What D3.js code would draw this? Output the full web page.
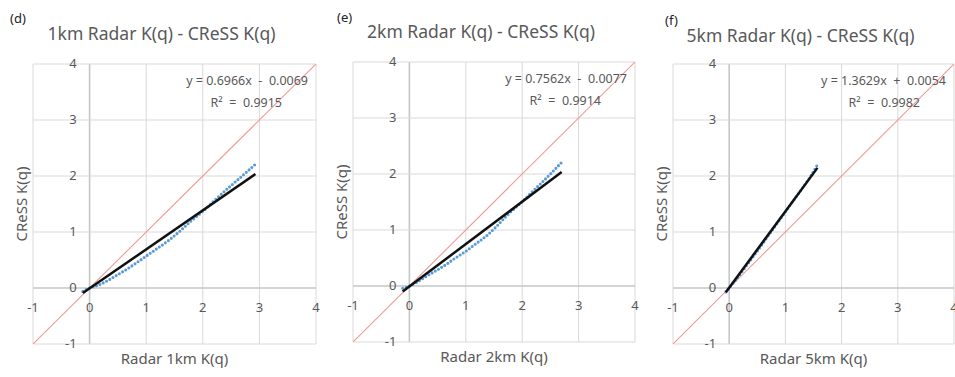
<!DOCTYPE html>
<html>
<head>
<meta charset="utf-8">
<script src="https://cdn.jsdelivr.net/npm/d3@7/dist/d3.min.js"></script>
<style>
  html, body { margin: 0; padding: 0; background: #fff; }
  svg { display: block; }
  text { font-family: "Noto Sans", "Open Sans", sans-serif; }
</style>
</head>
<body>
<svg id="chart" width="955" height="377"></svg>
<script>
// Panel labels, titles and axis titles
const panelTags = ["(d)", "(e)", "(f)"];
const panelTitles = ["1km Radar K(q) - CReSS K(q)", "2km Radar K(q) - CReSS K(q)", "5km Radar K(q) - CReSS K(q)"];
const xTitles = ["Radar 1km K(q)", "Radar 2km K(q)", "Radar 5km K(q)"];
const yTitle = "CReSS K(q)";

// Axis ticks (same on both axes)
const tickValues = [-1, 0, 1, 2, 3, 4];

// Radar vs CReSS K(q) samples, [radar, cress]
const series1km = [[-0.12,-0.06],[0.0,0.0],[0.15,0.05],[0.35,0.15],[0.5,0.24],[0.65,0.33],[0.8,0.43],[1.0,0.57],[1.2,0.71],[1.41,0.86],[1.6,1.02],[1.82,1.22],[2.0,1.37],[2.29,1.64],[2.5,1.83],[2.65,1.96],[2.93,2.21]];
const series2km = [[-0.12,-0.04],[0.0,0.0],[0.15,0.08],[0.36,0.21],[0.5,0.29],[0.66,0.39],[0.8,0.49],[1.0,0.62],[1.2,0.77],[1.36,0.89],[1.55,1.07],[1.72,1.25],[2.0,1.51],[2.31,1.81],[2.5,2.0],[2.7,2.21]];
const series5km = [[-0.06,-0.07],[0.1,0.12],[0.3,0.39],[0.5,0.66],[0.7,0.94],[0.9,1.22],[1.1,1.5],[1.3,1.78],[1.45,2.0],[1.57,2.2]];

// Linear trend lines: slope, intercept, R²
const slopes = [0.6966, 0.7562, 1.3629];
const intercepts = [-0.0069, -0.0077, 0.0054];
const rSquared = [0.9915, 0.9914, 0.9982];

const allSeries = [series1km, series2km, series5km];

// Plot frames for the three panels
const frames = [
  { left: 33,  right: 316, top: 64, bottom: 344, tagX: 10,  tagY: 23, titleY: 40 },
  { left: 353, right: 635, top: 62, bottom: 342, tagX: 337, tagY: 22, titleY: 38 },
  { left: 673, right: 954, top: 64, bottom: 344, tagX: 665, tagY: 25, titleY: 42 }
];

const svg = d3.select("#chart");
const gridColor = "#d9d9d9";
const textColor = "#595959";

frames.forEach((f, i) => {
  const x = d3.scaleLinear().domain([-1, 4]).range([f.left, f.right]);
  const y = d3.scaleLinear().domain([-1, 4]).range([f.bottom, f.top]);
  const g = svg.append("g");
  const midX = (f.left + f.right) / 2;

  const clipId = "clip" + i;
  g.append("clipPath").attr("id", clipId)
    .append("rect")
    .attr("x", f.left).attr("y", f.top)
    .attr("width", f.right - f.left).attr("height", f.bottom - f.top);

  // gridlines
  g.selectAll(".vg").data(tickValues).join("line")
    .attr("x1", d => x(d)).attr("x2", d => x(d))
    .attr("y1", f.top).attr("y2", f.bottom)
    .attr("stroke", d => d === 0 ? "#c6c6c6" : gridColor)
    .attr("stroke-width", d => d === 0 ? 1.6 : 1);
  g.selectAll(".hg").data(tickValues).join("line")
    .attr("y1", d => y(d)).attr("y2", d => y(d))
    .attr("x1", f.left).attr("x2", f.right)
    .attr("stroke", d => d === 0 ? "#c6c6c6" : gridColor)
    .attr("stroke-width", d => d === 0 ? 1.6 : 1);

  // tick labels along the zero lines
  g.selectAll(".xt").data(tickValues).join("text")
    .attr("x", d => x(d)).attr("y", y(0) + 24)
    .attr("text-anchor", "middle")
    .attr("font-size", 13).attr("fill", textColor)
    .text(d => d);
  g.selectAll(".yt").data(tickValues).join("text")
    .attr("x", x(0) - 13).attr("y", d => y(d) + 4)
    .attr("text-anchor", "end")
    .attr("font-size", 13).attr("fill", textColor)
    .text(d => d);

  // 1:1 reference line
  g.append("line")
    .attr("clip-path", `url(#${clipId})`)
    .attr("x1", x(-1)).attr("y1", y(-1))
    .attr("x2", x(4)).attr("y2", y(4))
    .attr("stroke", "#f29a96").attr("stroke-width", 1.1);

  // samples drawn as a dotted series
  const data = allSeries[i];
  g.append("path")
    .datum(data)
    .attr("fill", "none")
    .attr("stroke", "#5b9bd5")
    .attr("stroke-width", 3.1)
    .attr("stroke-linecap", "round")
    .attr("stroke-dasharray", "0,3.7")
    .attr("d", d3.line().x(d => x(d[0])).y(d => y(d[1])).curve(d3.curveMonotoneX));

  // linear trend line over the sample range
  const [x0, x1] = d3.extent(data, d => d[0]);
  const trend = [x0, x1].map(v => [v, slopes[i] * v + intercepts[i]]);
  g.append("path")
    .datum(trend)
    .attr("fill", "none")
    .attr("stroke", "#111")
    .attr("stroke-width", 2.5)
    .attr("d", d3.line().x(d => x(d[0])).y(d => y(d[1])));

  // equation and R²
  const sign = intercepts[i] < 0 ? "-" : "+";
  g.append("text")
    .attr("x", f.right - 8).attr("y", f.top + 21)
    .attr("text-anchor", "end")
    .attr("font-size", 12.5).attr("fill", textColor)
    .attr("xml:space", "preserve")
    .text(`y = ${slopes[i].toFixed(4)}x  ${sign}  ${Math.abs(intercepts[i]).toFixed(4)}`);
  g.append("text")
    .attr("x", f.right - 34).attr("y", f.top + 43)
    .attr("text-anchor", "end")
    .attr("font-size", 12.5).attr("fill", textColor)
    .attr("xml:space", "preserve")
    .text(`R²  =  ${rSquared[i].toFixed(4)}`);

  // titles
  g.append("text")
    .attr("x", f.tagX).attr("y", f.tagY)
    .attr("font-size", 13).attr("fill", "#222")
    .text(panelTags[i]);
  g.append("text")
    .attr("x", midX - 13).attr("y", f.titleY)
    .attr("text-anchor", "middle")
    .attr("font-size", 17.5).attr("fill", textColor)
    .text(panelTitles[i]);
  g.append("text")
    .attr("x", midX).attr("y", f.bottom + 20)
    .attr("text-anchor", "middle")
    .attr("font-size", 15).attr("fill", textColor)
    .text(xTitles[i]);
  g.append("text")
    .attr("transform", `translate(${f.left - 6},${(y(1) + y(2)) / 2}) rotate(-90)`)
    .attr("text-anchor", "middle")
    .attr("font-size", 15).attr("fill", textColor)
    .text(yTitle);
});
</script>
</body>
</html>
